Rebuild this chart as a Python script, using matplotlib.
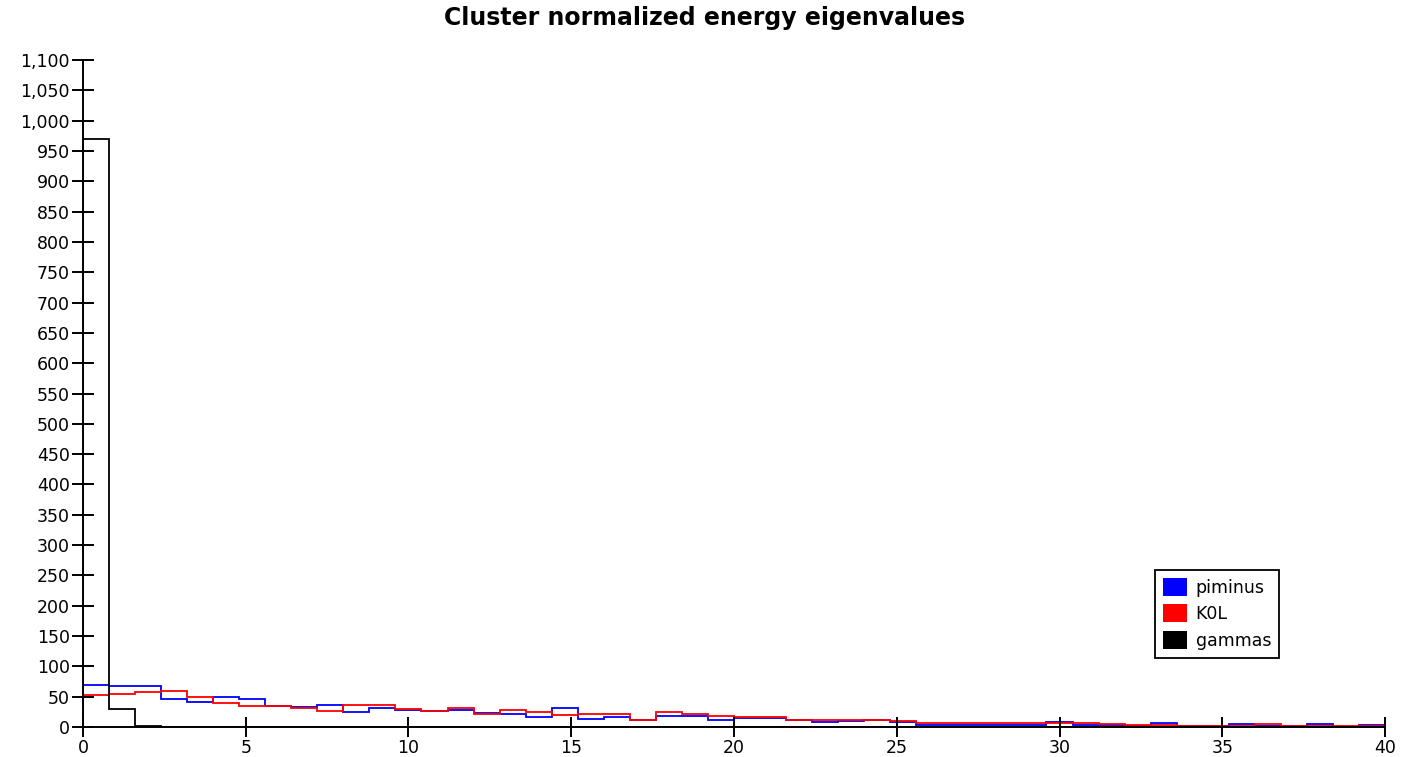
import numpy as np
import matplotlib
matplotlib.use("Agg")
import matplotlib.pyplot as plt
from matplotlib.patches import Patch
from matplotlib.ticker import FuncFormatter, MultipleLocator

# histogram bins: 50 bins of 0.8 from 0 to 40
bin_width = 0.8
n_bins = 50

piminus = [70, 67, 67, 47, 41, 50, 46, 35, 33, 37,
           24, 32, 28, 27, 28, 23, 21, 16, 31, 14,
           16, 11, 18, 18, 11, 15, 15, 11, 8, 10,
           12, 8, 3, 3, 3, 4, 3, 9, 4, 4,
           2, 6, 2, 2, 5, 2, 2, 5, 0, 4]
k0l = [52, 54, 58, 59, 50, 40, 35, 35, 32, 26,
       37, 37, 30, 27, 31, 22, 28, 25, 20, 22,
       21, 11, 25, 21, 18, 16, 16, 12, 12, 11,
       12, 10, 6, 6, 6, 6, 6, 6, 6, 5,
       4, 3, 2, 2, 2, 5, 2, 2, 1, 2]
gammas = [970, 30, 2] + [0] * 47

labels = ['piminus', 'K0L', 'gammas']
colors = ['#0000ff', '#ff0000', '#000000']

edges = np.arange(n_bins + 1) * bin_width

fig = plt.figure(figsize=(14.01, 7.57), dpi=100)
ax = fig.add_axes([0.0592, 0.0396, 0.9294, 0.8811])

for vals, col in zip([piminus, k0l, gammas], colors):
    ax.stairs(vals, edges, color=col, lw=1.3, baseline=0)

ax.set_xlim(0, 40)
ax.set_ylim(0, 1100)
ax.xaxis.set_major_locator(MultipleLocator(5))
ax.yaxis.set_major_locator(MultipleLocator(50))
ax.yaxis.set_major_formatter(FuncFormatter(lambda v, p: '{:,.0f}'.format(v)))

for s in ['top', 'right']:
    ax.spines[s].set_visible(False)
for s in ['left', 'bottom']:
    ax.spines[s].set_linewidth(1.4)

ax.tick_params(axis='y', direction='inout', length=16, width=1.4, pad=1.5,
               labelsize=12.5)
ax.tick_params(axis='x', direction='inout', length=14, width=1.4, pad=1.5,
               labelsize=12.5)

handles = [Patch(facecolor=c, edgecolor='none') for c in colors]
leg = ax.legend(handles, labels, loc='upper left', bbox_to_anchor=(0.8233, 0.2354),
                borderaxespad=0, fancybox=False, framealpha=1, edgecolor='black',
                fontsize=12.5, handlelength=1.4, handleheight=1.2,
                handletextpad=0.5, labelspacing=0.45, borderpad=0.45)
leg.get_frame().set_linewidth(1.3)

fig.text(0.503, 0.976, 'Cluster normalized energy eigenvalues', ha='center',
         va='center', fontsize=17, fontweight='bold')

fig.savefig('out.png', dpi=100)
